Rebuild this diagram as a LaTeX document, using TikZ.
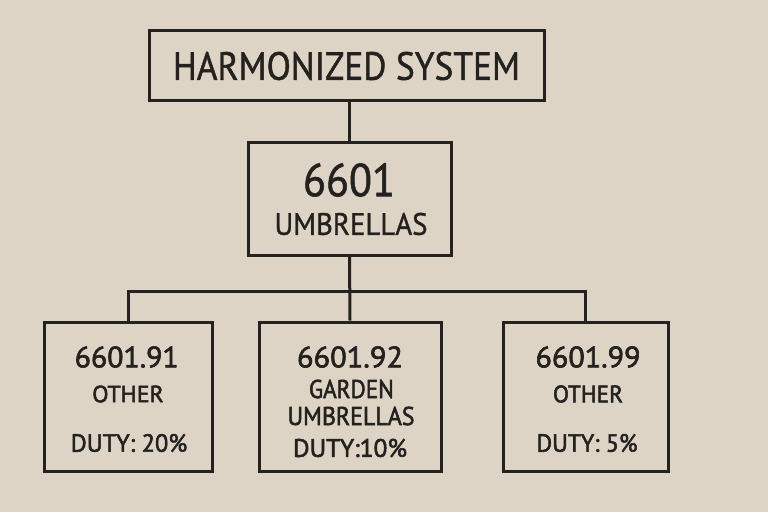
\documentclass[tikz,border=0pt]{standalone}
\usepackage{fontspec}
\usepackage{graphicx}
\setmainfont{PT Sans}
\newfontfamily\medf{PT Sans}[FakeBold=1.2]
\newfontfamily\semf{PT Sans}[FakeBold=2.2]
\definecolor{paper}{RGB}{221,212,198}
\definecolor{ink}{RGB}{36,34,31}
\newcommand{\fitt}[3]{\resizebox{#1pt}{#2pt}{\fontsize{20}{24}\selectfont #3}}
\begin{document}
\begin{tikzpicture}[x=1pt,y=-1pt,
  box/.style={draw=ink,line width=3pt,minimum width=#1,inner sep=0pt},
  txt/.style={inner sep=0pt,text=ink},
  conn/.style={draw=ink,line width=3pt}]
\fill[paper] (0,0) rectangle (768,512);
\useasboundingbox (0,0) rectangle (768,512);
% boxes
\node[box=395pt,minimum height=70pt] (hs) at (346.5,65) {};
\node[box=203pt,minimum height=113pt] (um) at (349.5,198.5) {};
\node[box=168pt,minimum height=149pt] (b1) at (128,396.5) {};
\node[box=182pt,minimum height=149pt] (b2) at (350,396.5) {};
\node[box=165pt,minimum height=149pt] (b3) at (585.5,396.5) {};
\coordinate (bar) at (350,291);
% connectors
\draw[conn] (um.north) -- (um.north |- hs.south);
\draw[conn] (um.south) -- (b2.north);
\draw[conn,line join=miter] (b1.north) -- (b1.north |- bar) -- (b3.north |- bar) -- (b3.north);
% texts
\node[txt] (t0) at (346.5,66) {\fitt{347}{28}{\medf HARMONIZED SYSTEM}};
\node[txt] (t1) at (349,180) {\fitt{92}{33}{\medf 6601}};
\node[txt] (t2) at (351,224) {\fitt{153}{22}{\medf UMBRELLAS}};
\node[txt] (c1) at (126.7,357) {\fitt{104}{21}{\semf 6601.91}};
\node[txt] (d1) at (128,394) {\fitt{71.5}{16.7}{\semf OTHER}};
\node[txt] (e1) at (129,443) {\fitt{116.5}{17.7}{\semf DUTY: 20\%}};
\node[txt] (c2) at (350,357) {\fitt{106}{21}{\semf 6601.92}};
\node[txt] (d2) at (351.4,389) {\fitt{85}{18.3}{\semf GARDEN}};
\node[txt] (f2) at (351,416) {\fitt{127}{18.3}{\semf UMBRELLAS}};
\node[txt] (e2) at (350,448) {\fitt{114}{18}{\semf DUTY:10\%}};
\node[txt] (c3) at (588,357) {\fitt{105}{21}{\semf 6601.99}};
\node[txt] (d3) at (588,394) {\fitt{70}{17}{\semf OTHER}};
\node[txt] (e3) at (587,443) {\fitt{101}{17.7}{\semf DUTY: 5\%}};
\end{tikzpicture}
\end{document}
